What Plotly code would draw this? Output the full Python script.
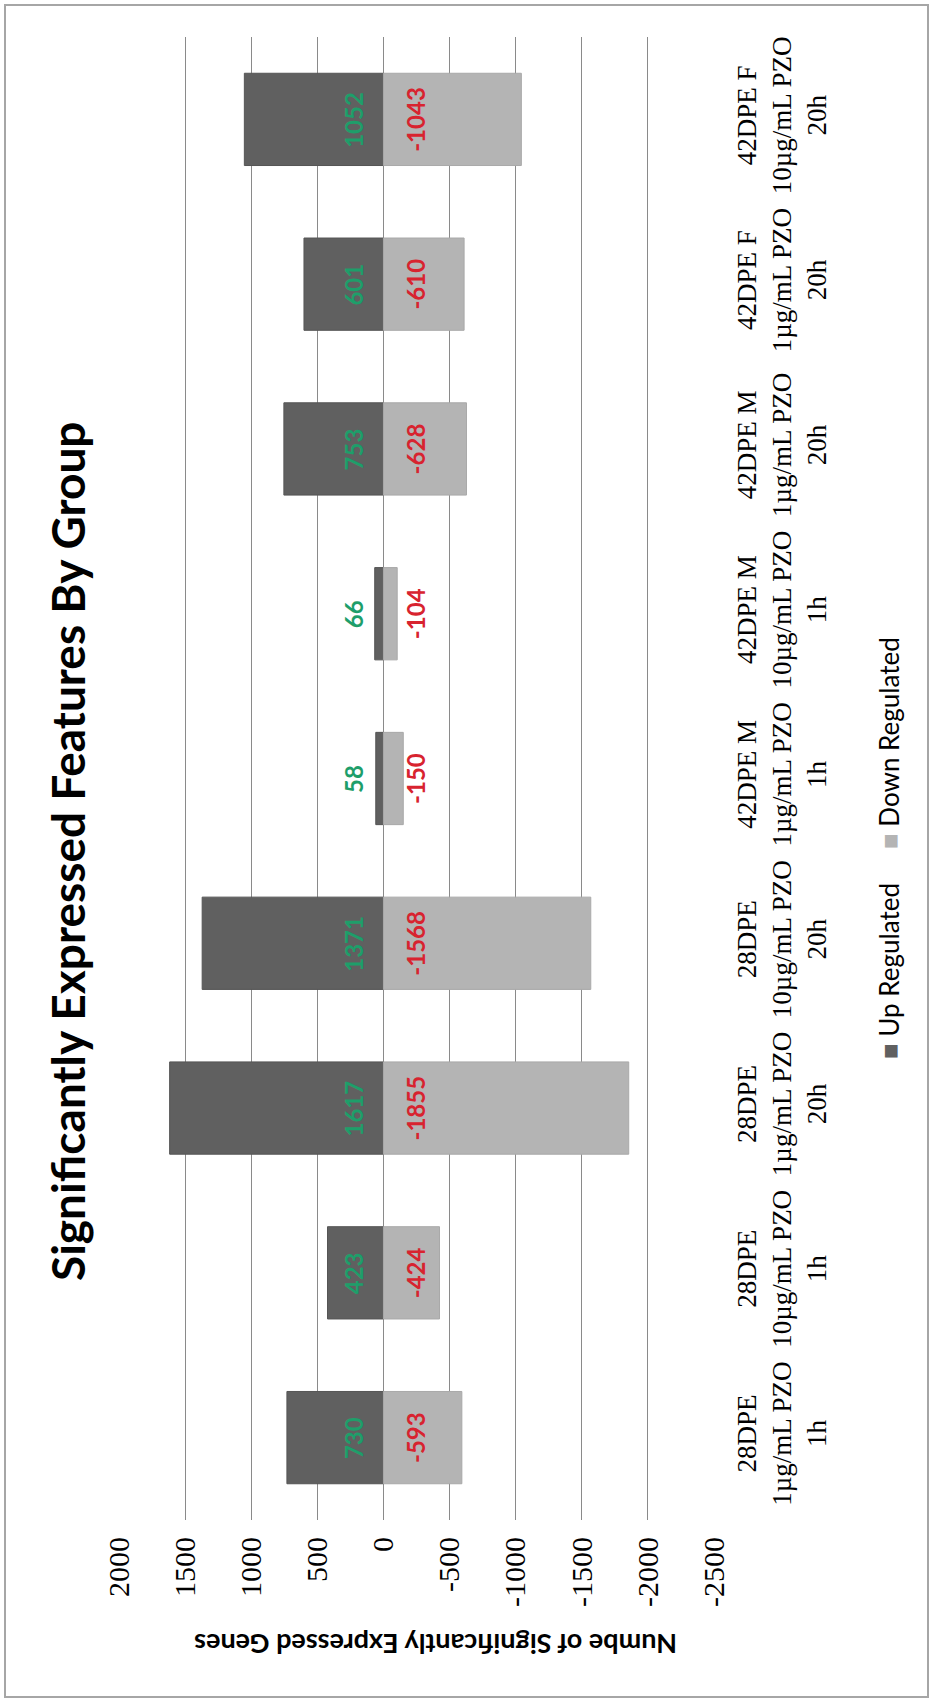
import plotly.graph_objects as go

# ---------------- data ----------------
categories = [
    "28DPE<br>1µg/mL PZO<br>1h",
    "28DPE<br>10µg/mL PZO<br>1h",
    "28DPE<br>1µg/mL PZO<br>20h",
    "28DPE<br>10µg/mL PZO<br>20h",
    "42DPE M<br>1µg/mL PZO<br>1h",
    "42DPE M<br>10µg/mL PZO<br>1h",
    "42DPE M<br>1µg/mL PZO<br>20h",
    "42DPE F<br>1µg/mL PZO<br>20h",
    "42DPE F<br>10µg/mL PZO<br>20h",
]
up_values = [730, 423, 1617, 1371, 58, 66, 753, 601, 1052]
down_values = [-593, -424, -1855, -1568, -150, -104, -628, -610, -1043]
series_names = ["Up Regulated", "Down Regulated"]
value_ticks = [2000, 1500, 1000, 500, 0, -500, -1000, -1500, -2000, -2500]
title_text = "Significantly Expressed Features By Group"
axis_title_text = "Numbe of Significantly Expressed Genes"

# ---------------- style ----------------
W, H = 932, 1700
PL, PR, PT, PB = 119, 714, 37, 1520   # plot area in pixels
UP_COLOR = "#606060"
DOWN_COLOR = "#b4b4b4"
UP_TEXT = "#1e9e6a"
DOWN_TEXT = "#d8232f"
GRID = "#8a8a8a"
SERIF = "Liberation Serif"
SANS = "Lato"


def px_x(p):
    return (p - PL) / (PR - PL)


def px_y(p):
    return (PB - p) / (PB - PT)


fig = go.Figure()
fig.add_trace(go.Bar(
    y=categories, x=up_values, orientation="h", name=series_names[0],
    marker=dict(color=UP_COLOR, line=dict(color="#555555", width=1)),
    width=0.56,
))
fig.add_trace(go.Bar(
    y=categories, x=down_values, orientation="h", name=series_names[1],
    marker=dict(color=DOWN_COLOR, line=dict(color="#a9a9a9", width=1)),
    width=0.56,
))

annotations = []
# data labels near the base of each bar
for cat, u, d in zip(categories, up_values, down_values):
    annotations.append(dict(
        x=0, y=cat, xref="x", yref="y", text=str(u), showarrow=False,
        textangle=-90, xshift=-30, font=dict(family=SANS, size=24, color=UP_TEXT, weight="bold"),
    ))
    annotations.append(dict(
        x=0, y=cat, xref="x", yref="y", text=str(d), showarrow=False,
        textangle=-90, xshift=32, font=dict(family=SANS, size=24, color=DOWN_TEXT, weight="bold"),
    ))

# chart title
annotations.append(dict(
    x=px_x(67), y=px_y(852), xref="paper", yref="paper", text=title_text,
    showarrow=False, textangle=-90, xanchor="center", yanchor="middle",
    font=dict(family=SANS, size=46, color="black", weight="bold"),
))
# value axis title (upside down)
annotations.append(dict(
    x=px_x(436), y=px_y(1645), xref="paper", yref="paper", text=axis_title_text,
    showarrow=False, textangle=180, xanchor="center", yanchor="middle",
    font=dict(family=SANS, size=27, color="black", weight="bold"),
))
# legend
legend_pos = [971, 743]
for name, color, yc in zip(series_names, [UP_COLOR, DOWN_COLOR], legend_pos):
    annotations.append(dict(
        x=px_x(889), y=px_y(yc), xref="paper", yref="paper",
        text=f'<span style="color:{color}">■</span> {name}',
        showarrow=False, textangle=-90, xanchor="center", yanchor="middle",
        font=dict(family=SANS, size=26, color="black"),
    ))

fig.update_layout(
    width=W, height=H,
    margin=dict(l=PL, r=W - PR, t=PT, b=H - PB),
    paper_bgcolor="white", plot_bgcolor="white",
    barmode="relative",
    showlegend=False,
    annotations=annotations,
    shapes=[dict(
        type="rect", xref="paper", yref="paper",
        x0=px_x(5), x1=px_x(928), y0=px_y(1697), y1=px_y(5),
        line=dict(color="#a6a6a6", width=2), layer="below",
    )],
)
fig.update_xaxes(
    range=[2000, -2500], tickvals=value_ticks, ticktext=[str(v) for v in value_ticks],
    showgrid=True, gridcolor=GRID, gridwidth=1.3, zeroline=False, showline=False,
    tickangle=-90, ticks="", ticklabelstandoff=10,
    tickfont=dict(family=SERIF, size=30, color="black"),
)
fig.update_yaxes(
    categoryorder="array", categoryarray=categories, range=[-0.5, 8.5],
    side="right", showgrid=False, zeroline=False, showline=False,
    tickangle=-90, ticks="", ticklabelstandoff=14,
    tickfont=dict(family=SERIF, size=27, color="black"),
)

fig.write_html("out.html")
